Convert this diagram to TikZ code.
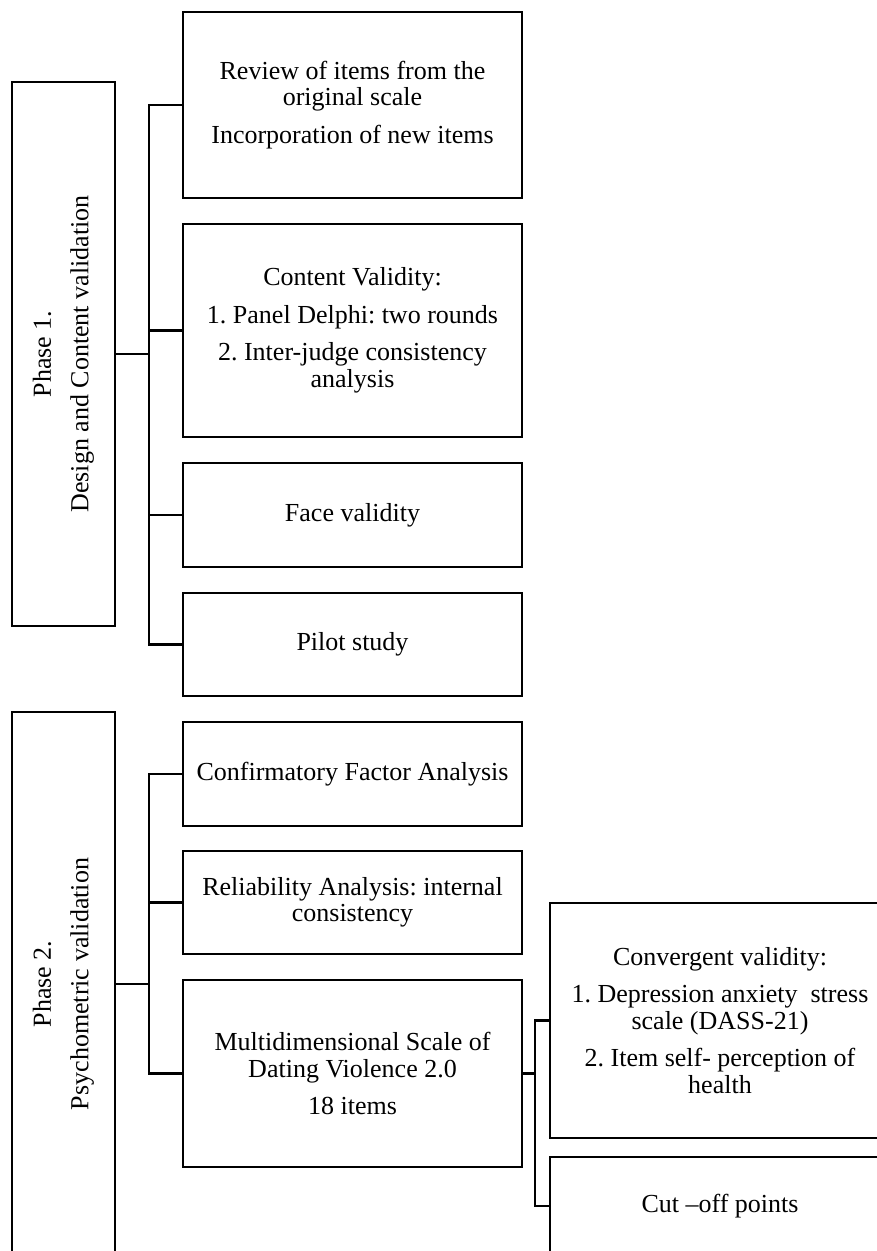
\documentclass[tikz,border=0pt]{standalone}
\usepackage{fontspec}
\setmainfont{Liberation Serif}
\frenchspacing
\begin{document}
\begin{tikzpicture}[x=1pt,y=-1pt,
  every node/.style={font=\fontsize{26}{26.5}\selectfont\frenchspacing, align=center, inner sep=0pt},
  box/.style={draw, line width=2.2pt, minimum width=#1},
  box/.default=339,
  link/.style={draw, line width=2.2pt}]
\clip (0,0) rectangle (877,1251);
\fill[white] (0,0) rectangle (877,1251);

% Phase boxes (rotated text)
\node[box=544, rotate=90, minimum height=103] (p1) at (63.5,354)
  {Phase 1.\\[11pt]Design and Content validation};
\node[box=544, rotate=90, minimum height=103] (p2) at (63.5,984)
  {Phase 2.\\[11pt]Psychometric validation};

% Phase 1 items
\node[box, minimum height=186] (b1) at (352.5,105)
  {Review of items from the\\original scale\\[11pt]Incorporation of new items};
\node[box, minimum height=213] (b2) at (352.5,330.5)
  {Content Validity:\\[11pt]1. Panel Delphi: two rounds\\[11pt]2. Inter-judge consistency\\analysis};
\node[box, minimum height=104] (b3) at (352.5,515) {Face validity};
\node[box, minimum height=103] (b4) at (352.5,644.5) {Pilot study};

% Phase 2 items
\node[box, minimum height=104] (b5) at (352.5,774) {Confirmatory Factor Analysis};
\node[box, minimum height=103] (b6) at (352.5,902.5) {Reliability Analysis: internal\\consistency};
\node[box, minimum height=187] (b7) at (352.5,1073.5)
  {Multidimensional Scale of\\Dating Violence 2.0\\[11pt]18 items};
\node[box=340, minimum height=235] (b8) at (720,1020.5)
  {Convergent validity:\\[11pt]1. Depression anxiety\ \ stress\\scale (DASS-21)\\[11pt]2. Item self- perception of\\health};
\node[box=340, minimum height=98] (b9) at (720,1206) {Cut –off points};

% junction points
\coordinate (t1) at (149,354);
\coordinate (t2) at (149,984);
\coordinate (t3) at (535,1073.5);

% connectors
\draw[link] (p1.south) -- (t1);
\draw[link] (b1.west) -| (t1);
\draw[link] (b2.west) -| (t1);
\draw[link] (b3.west) -| (t1);
\draw[link] (b4.west) -| (t1);

\draw[link] (p2.south) -- (t2);
\draw[link] (b5.west) -| (t2);
\draw[link] (b6.west) -| (t2);
\draw[link] (b7.west) -| (t2);

\draw[link] (b7.east) -- (t3);
\draw[link] (b8.west) -| (t3);
\draw[link] (b9.west) -| (t3);
\end{tikzpicture}
\end{document}
